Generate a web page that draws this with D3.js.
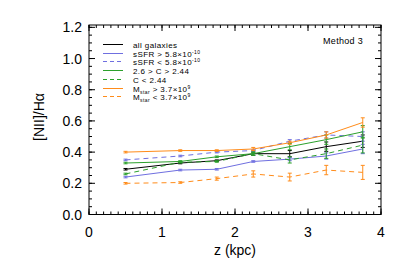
<!DOCTYPE html>
<html>
<head>
<meta charset="utf-8">
<script src="https://cdn.jsdelivr.net/npm/d3@7"></script>
<style>
body { margin: 0; background: #fff; }
text { font-family: "Liberation Sans", Arial, sans-serif; }
</style>
</head>
<body>
<div id="graphics"></div>
<script>
var width = 407, height = 271;

// data
var zValues = [0.5, 1.25, 1.75, 2.25, 2.75, 3.25, 3.75];
var allGal   = [0.29, 0.33, 0.345, 0.39, 0.39, 0.435, 0.47];
var allErr   = [0.005, 0.005, 0.005, 0.01, 0.02, 0.03, 0.04];
var ssfrHi   = [0.24, 0.285, 0.29, 0.34, 0.355, 0.375, 0.42];
var ssfrHiE  = [0.005, 0.005, 0.005, 0.005, 0.01, 0.02, 0.03];
var ssfrLo   = [0.35, 0.375, 0.40, 0.41, 0.47, 0.51, 0.50];
var ssfrLoE  = [0.005, 0.005, 0.005, 0.005, 0.01, 0.02, 0.03];
var concMid  = [0.33, 0.34, 0.37, 0.39, 0.435, 0.48, 0.53];
var concMidE = [0.005, 0.005, 0.005, 0.01, 0.02, 0.03, 0.04];
var concLo   = [0.26, 0.335, 0.34, 0.39, 0.35, 0.39, 0.445];
var concLoE  = [0.005, 0.005, 0.005, 0.01, 0.02, 0.03, 0.05];
var mstarHi  = [0.40, 0.41, 0.41, 0.42, 0.46, 0.51, 0.59];
var mstarHiE = [0.005, 0.005, 0.005, 0.01, 0.01, 0.02, 0.03];
var mstarLo  = [0.20, 0.205, 0.23, 0.26, 0.24, 0.285, 0.27];
var mstarLoE = [0.005, 0.005, 0.01, 0.02, 0.025, 0.03, 0.045];

var xTicks = [0, 1, 2, 3, 4];
var yTicks = [0.0, 0.2, 0.4, 0.6, 0.8, 1.0, 1.2];

var series = [
  {name: 'all galaxies', y: allGal, e: allErr, color: '#000000', dash: null},
  {name: 'sSFR > 5.8', sup: '-10', y: ssfrHi, e: ssfrHiE, color: '#6f6fe0', dash: null},
  {name: 'sSFR < 5.8', sup: '-10', y: ssfrLo, e: ssfrLoE, color: '#6f6fe0', dash: '5,4'},
  {name: '2.6 > C > 2.44', y: concMid, e: concMidE, color: '#2ca02c', dash: null},
  {name: 'C < 2.44', y: concLo, e: concLoE, color: '#2ca02c', dash: '5,4'},
  {name: 'M', sub: 'star', rest: ' > 3.7', sup: '9', y: mstarHi, e: mstarHiE, color: '#ff8c1a', dash: null},
  {name: 'M', sub: 'star', rest: ' < 3.7', sup: '9', y: mstarLo, e: mstarLoE, color: '#ff8c1a', dash: '5,4'}
];

var pLeft = 89, pRight = 381, pTop = 25, pBottom = 214.5;

var x = d3.scaleLinear().domain([0, 4]).range([pLeft, pRight]);
var y = d3.scaleLinear().domain([0, 1.215]).range([pBottom, pTop]);

var svg = d3.select('#graphics').append('svg')
    .attr('width', width)
    .attr('height', height);

// frame
svg.append('rect')
    .attr('x', pLeft).attr('y', pTop)
    .attr('width', pRight - pLeft).attr('height', pBottom - pTop)
    .attr('fill', 'none').attr('stroke', '#000').attr('stroke-width', 1);

// ticks (inward, all four sides)
var xMinor = d3.range(0, 4.001, 0.1);
var yMinor = d3.range(0, 1.2001, 0.05);
function tickLines(vals, len, axis) {
  vals.forEach(function(v) {
    if (axis == 'x') {
      svg.append('line').attr('x1', x(v)).attr('x2', x(v)).attr('y1', pBottom).attr('y2', pBottom - len).attr('stroke', '#000');
      svg.append('line').attr('x1', x(v)).attr('x2', x(v)).attr('y1', pTop).attr('y2', pTop + len).attr('stroke', '#000');
    } else {
      svg.append('line').attr('y1', y(v)).attr('y2', y(v)).attr('x1', pLeft).attr('x2', pLeft + len).attr('stroke', '#000');
      svg.append('line').attr('y1', y(v)).attr('y2', y(v)).attr('x1', pRight).attr('x2', pRight - len).attr('stroke', '#000');
    }
  });
}
tickLines(xMinor, 3, 'x');
tickLines(xTicks, 6, 'x');
tickLines(yMinor, 3, 'y');
tickLines(yTicks, 6, 'y');

svg.selectAll('.xlab').data(xTicks).enter().append('text')
    .attr('x', d => x(d)).attr('y', 237)
    .attr('text-anchor', 'middle')
    .style('font-size', '14px')
    .text(d => d);

svg.selectAll('.ylab').data(yTicks).enter().append('text')
    .attr('x', 82).attr('y', d => y(d) + 5)
    .attr('text-anchor', 'end')
    .style('font-size', '14px')
    .text(d => d.toFixed(1));

svg.append('text')
    .attr('x', 235).attr('y', 255)
    .attr('text-anchor', 'middle')
    .style('font-size', '14px')
    .text('z (kpc)');

svg.append('text')
    .attr('transform', 'translate(44,117) rotate(-90)')
    .attr('text-anchor', 'middle')
    .style('font-size', '14px')
    .text('[NII]/H\u03b1');

svg.append('text')
    .attr('x', 363).attr('y', 44)
    .attr('text-anchor', 'end')
    .style('font-size', '9px')
    .style('letter-spacing', '0.3px')
    .text('Method 3');

// series
var line = d3.line().x(d => x(d[0])).y(d => y(d[1]));

series.forEach(function(s) {
  var pts = zValues.map((z, i) => [z, s.y[i], s.e[i]]);
  var g = svg.append('g');
  g.append('path')
      .attr('d', line(pts))
      .attr('fill', 'none')
      .attr('stroke', s.color)
      .attr('stroke-width', 1)
      .attr('stroke-dasharray', s.dash);
  var eb = g.selectAll('.eb').data(pts).enter().append('g');
  eb.append('line')
      .attr('x1', d => x(d[0])).attr('x2', d => x(d[0]))
      .attr('y1', d => y(d[1] - d[2])).attr('y2', d => y(d[1] + d[2]))
      .attr('stroke', s.color);
  eb.append('line')
      .attr('x1', d => x(d[0]) - 2).attr('x2', d => x(d[0]) + 2)
      .attr('y1', d => y(d[1] - d[2])).attr('y2', d => y(d[1] - d[2]))
      .attr('stroke', s.color);
  eb.append('line')
      .attr('x1', d => x(d[0]) - 2).attr('x2', d => x(d[0]) + 2)
      .attr('y1', d => y(d[1] + d[2])).attr('y2', d => y(d[1] + d[2]))
      .attr('stroke', s.color);
});

// legend
var legend = svg.selectAll('.leg').data(series).enter().append('g')
    .attr('transform', function(d, i) {
      return 'translate(' + [103, Math.round(44 + i * 8.7) + 0.5] + ')';
    });
legend.append('line')
    .attr('x1', 0).attr('x2', 20)
    .attr('stroke', d => d.color)
    .attr('stroke-dasharray', d => d.dash ? '4,3' : null);
var lt = legend.append('text')
    .attr('x', 30).attr('y', 3)
    .style('font-size', '8px')
    .style('letter-spacing', '0.4px');
lt.each(function(d) {
  var t = d3.select(this);
  t.append('tspan').text(d.name);
  if (d.sub) {
    t.append('tspan').attr('dy', 2).style('font-size', '5px').text(d.sub);
    t.append('tspan').attr('dy', -2).text(d.rest);
  }
  if (d.sup) {
    t.append('tspan').text('\u00d710');
    t.append('tspan').attr('dy', -3).style('font-size', '5px').text(d.sup);
  }
});
</script>
</body>
</html>
